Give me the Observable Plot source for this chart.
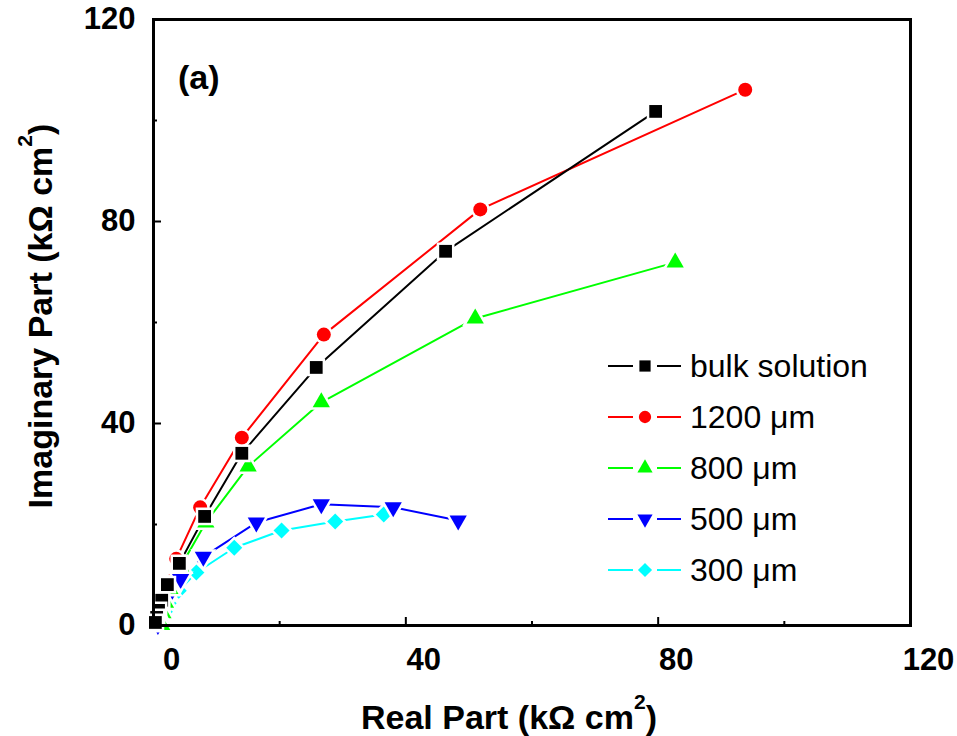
<!DOCTYPE html>
<html><head><meta charset="utf-8">
<script src="https://cdn.jsdelivr.net/npm/d3@7"></script>
<script src="https://cdn.jsdelivr.net/npm/@observablehq/plot@0.6"></script>
<style>
body{margin:0;background:#fff;font-family:"Liberation Sans",Arial,sans-serif;}
#wrap{position:relative;width:957px;height:736px;overflow:hidden;}
.t{position:absolute;white-space:nowrap;color:#000;line-height:34px;}
.t sup{font-size:0.62em;vertical-align:0.95em;line-height:0;}
.leg{position:absolute;left:608px;height:40px;display:flex;align-items:center;}
.leg span{font-size:32px;margin-left:8px;}
</style></head><body><div id="wrap"></div>
<script>
// ---- data (kΩ cm²) ----
const seriesNames = ["bulk solution", "1200 μm", "800 μm", "500 μm", "300 μm"];
const seriesColors = ["#000000", "#ff0000", "#00ff00", "#0000ff", "#00ffff"];

const bulkX = [79.6, 46.3, 25.8, 14.0, 8.1, 4.1, 2.2, 1.3, 0.8, 0.5, 0.3];
const bulkY = [101.8, 74.1, 51.1, 34.1, 21.6, 12.3, 8.1, 5.0, 3.0, 1.6, 0.6];

const um1200X = [93.8, 51.8, 27.0, 14.0, 7.4, 3.6, 2.0, 1.1, 0.6, 0.3, 0.1];
const um1200Y = [106.1, 82.4, 57.6, 37.2, 23.4, 13.2, 8.2, 5.3, 3.3, 1.6, 0.5];

const um800X = [82.7, 51.0, 26.6, 15.0, 8.3, 4.3, 2.6, 1.9, 1.5, 1.3, 1.3];
const um800Y = [71.9, 60.8, 44.2, 31.5, 20.4, 11.7, 7.2, 4.5, 2.4, 0.9, 0.1];

const um500X = [48.3, 38.0, 26.6, 16.3, 7.9, 4.3, 2.4, 1.5, 1.0, 0.8, 0.7];
const um500Y = [20.8, 23.4, 24.0, 20.4, 13.6, 9.2, 5.8, 3.6, 2.0, 0.8, 0.1];

const um300X = [36.5, 28.8, 20.3, 12.8, 6.8, 4.0, 2.4, 1.8, 1.5, 1.4];
const um300Y = [22.0, 20.6, 18.8, 15.4, 10.5, 6.9, 4.4, 2.7, 1.4, 0.4];

const xMajorTicks = [0, 40, 80, 120];
const xMinorTicks = [20, 60, 100];
const yMajorTicks = [0, 40, 80, 120];
const yMinorTicks = [20, 60, 100];

// ---- symbols ----
const triDown = {draw(ctx, size) {
  const s = Math.sqrt(size * 4 / Math.sqrt(3)), h = s * Math.sqrt(3) / 2;
  ctx.moveTo(0, h * 2 / 3); ctx.lineTo(s / 2, -h / 3); ctx.lineTo(-s / 2, -h / 3); ctx.closePath();
}};
const triUp = {draw(ctx, size) {
  const s = Math.sqrt(size * 4 / Math.sqrt(3)), h = s * Math.sqrt(3) / 2;
  ctx.moveTo(0, -h * 2 / 3); ctx.lineTo(s / 2, h / 3); ctx.lineTo(-s / 2, h / 3); ctx.closePath();
}};
const diamond = {draw(ctx, size) {
  const r = Math.sqrt(size / 2);
  ctx.moveTo(0, -r); ctx.lineTo(r, 0); ctx.lineTo(0, r); ctx.lineTo(-r, 0); ctx.closePath();
}};
const square = {draw(ctx, size) {
  const s = Math.sqrt(size) / 2;
  ctx.rect(-s, -s, 2 * s, 2 * s);
}};
const circle = {draw(ctx, size) {
  const r = Math.sqrt(size / Math.PI);
  ctx.moveTo(r, 0); ctx.arc(0, 0, r, 0, 2 * Math.PI);
}};

const seriesX = [bulkX, um1200X, um800X, um500X, um300X];
const seriesY = [bulkY, um1200Y, um800Y, um500Y, um300Y];
const seriesSymbols = [square, circle, triUp, triDown, diamond];
const seriesR = [7.2, 7.0, 6.4, 6.4, 6.4];

const series = seriesNames.map((name, i) => ({
  name, color: seriesColors[i], symbol: seriesSymbols[i], r: seriesR[i],
  pts: seriesX[i].map((x, j) => ({x, y: seriesY[i][j]}))
}));

const drawOrder = [4, 3, 2, 1, 0];
const marks = [];
for (const i of drawOrder) {
  const s = series[i];
  marks.push(Plot.line(s.pts, {x: "x", y: "y", stroke: s.color, strokeWidth: 2}));
}
for (const i of drawOrder) {
  const s = series[i];
  marks.push(Plot.dot(s.pts, {x: "x", y: "y", symbol: s.symbol, r: s.r, fill: s.color,
    stroke: "white", strokeWidth: 5, paintOrder: "stroke"}));
}

const chart = Plot.plot({
  width: 957, height: 736,
  marginLeft: 153, marginRight: 47, marginTop: 19, marginBottom: 111,
  style: {fontFamily: "'Liberation Sans', Arial, sans-serif", background: "white", color: "black"},
  x: {domain: [0, 120]},
  y: {domain: [0, 120]},
  marks: [
    ...marks,
    Plot.axisX(xMajorTicks, {tickSize: 0, tickPadding: 22, dx: 18, fontSize: 31, fontWeight: "bold", label: null}),
    Plot.axisX(xMajorTicks, {tickSize: 8, dy: -8, strokeWidth: 2, tickFormat: () => "", label: null}),
    Plot.axisX(xMinorTicks, {tickSize: 4, dy: -4, strokeWidth: 2, tickFormat: () => "", label: null}),
    Plot.axisY(yMajorTicks, {tickSize: 0, tickPadding: 18, fontSize: 31, fontWeight: "bold", label: null}),
    Plot.axisY(yMajorTicks, {tickSize: 8, dx: 8, strokeWidth: 2, tickFormat: () => "", label: null}),
    Plot.axisY(yMinorTicks, {tickSize: 4, dx: 4, strokeWidth: 2, tickFormat: () => "", label: null}),
    Plot.frame({stroke: "black", strokeWidth: 3})
  ]
});

const wrap = document.getElementById("wrap");
wrap.appendChild(chart);

function addText(html, css) {
  const d = document.createElement("div");
  d.className = "t";
  d.innerHTML = html;
  Object.assign(d.style, css);
  wrap.appendChild(d);
  return d;
}
addText("Real Part (kΩ cm<sup>2</sup>)", {left: "509px", top: "700px", fontSize: "34px", fontWeight: "bold", transform: "translateX(-50%)"});
addText("Imaginary Part (kΩ cm<sup>2</sup>)", {left: "40px", top: "316px", fontSize: "34px", fontWeight: "bold", transform: "translate(-50%,-50%) rotate(-90deg)"});
addText("(a)", {left: "178px", top: "60px", fontSize: "34px", fontWeight: "bold"});

// legend
const legendRowCenters = [366, 417, 468, 519, 570];
series.forEach((s, i) => {
  const row = document.createElement("div");
  row.className = "leg";
  row.style.top = (legendRowCenters[i] - 20) + "px";
  const ns = "http://www.w3.org/2000/svg";
  const svg = document.createElementNS(ns, "svg");
  svg.setAttribute("width", 74); svg.setAttribute("height", 40);
  const l1 = document.createElementNS(ns, "line");
  l1.setAttribute("x1", 0); l1.setAttribute("x2", 25); l1.setAttribute("y1", 20); l1.setAttribute("y2", 20);
  const l2 = document.createElementNS(ns, "line");
  l2.setAttribute("x1", 49); l2.setAttribute("x2", 73); l2.setAttribute("y1", 20); l2.setAttribute("y2", 20);
  for (const l of [l1, l2]) { l.setAttribute("stroke", s.color); l.setAttribute("stroke-width", 2); svg.appendChild(l); }
  const p = document.createElementNS(ns, "path");
  const rr = s.r * 0.88;
  p.setAttribute("d", d3.symbol(s.symbol, Math.PI * rr * rr)());
  p.setAttribute("transform", "translate(37,20)");
  p.setAttribute("fill", s.color);
  svg.appendChild(p);
  row.appendChild(svg);
  const sp = document.createElement("span");
  sp.textContent = s.name;
  row.appendChild(sp);
  wrap.appendChild(row);
});
</script>
</body></html>
